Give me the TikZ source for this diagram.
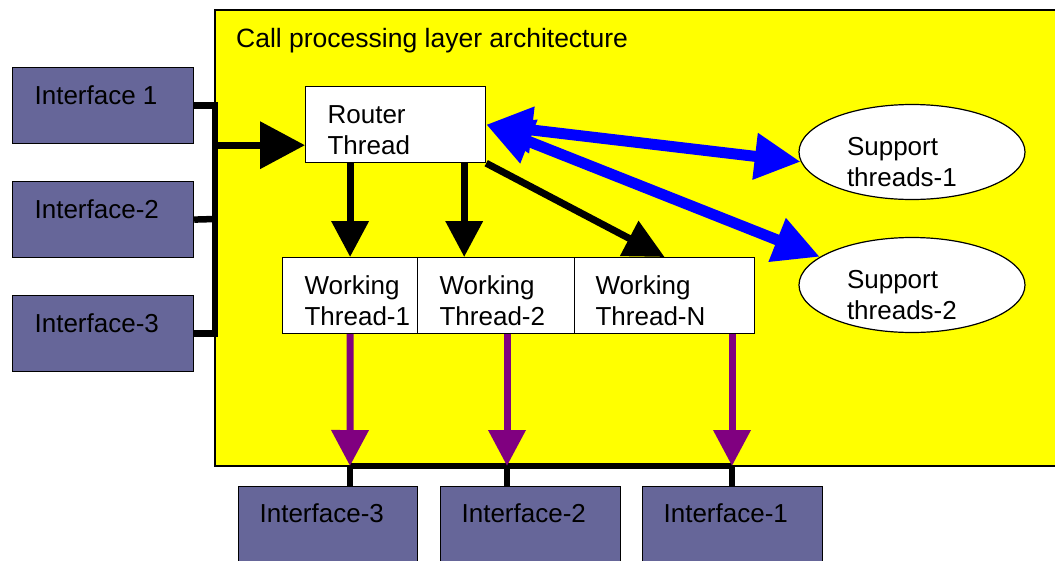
\documentclass[tikz,border=0pt]{standalone}
\usepackage{fontspec}
\setmainfont{Liberation Sans}
\usetikzlibrary{arrows.meta,calc,shapes.geometric}
\definecolor{ifc}{RGB}{102,102,153}
\definecolor{ylw}{RGB}{255,255,0}
\definecolor{blu}{RGB}{0,0,255}
\definecolor{pur}{RGB}{128,0,128}
% height, width, left pad, first baseline, text
\newcommand\bt[5]{\parbox[c][#1][t]{#2}{\raggedright\leftskip=#3\relax\rule{0pt}{#4}\ignorespaces#5}}
\begin{document}
\begin{tikzpicture}[x=1pt,y=-1pt,font=\fontsize{26}{31}\selectfont,
  ifbox/.style={draw=black,line width=1.2pt,fill=ifc,inner sep=0pt,anchor=north west},
  wbox/.style={draw=black,line width=1.2pt,fill=white,inner sep=0pt,anchor=north west},
  sup/.style={ellipse,draw=black,line width=1.2pt,fill=white,inner sep=0pt,minimum width=226pt,minimum height=95pt},
  blk/.style={line width=7pt,draw=black},
  bigtip/.style={-{Triangle[length=45pt,width=46pt]}},
  midtip/.style={-{Triangle[length=36pt,width=36pt]}},
  diagtip/.style={-{Triangle[length=40pt,width=38pt]}},
  bluarr/.style={line width=11pt,draw=blu,{Triangle[length=46pt,width=44pt]}-{Triangle[length=46pt,width=44pt]}},
  purarr/.style={line width=7pt,draw=pur,-{Triangle[length=36pt,width=36pt]}}]
\useasboundingbox (0,0) rectangle (1055,560);
\clip (0,0) rectangle (1055,560);

% layer
\filldraw[fill=ylw,draw=black,line width=1.2pt] (215,10) rectangle (1070,466);
\node[anchor=base west,inner sep=0pt,font=\fontsize{26.5}{31}\selectfont] (title) at (236,47) {Call processing layer architecture};

% left interfaces
\node[ifbox] (i1) at (12,67)  {\bt{76pt}{181pt}{22pt}{37pt}{Interface 1}};
\node[ifbox] (i2) at (12,181) {\bt{76pt}{181pt}{22pt}{37pt}{Interface-2}};
\node[ifbox] (i3) at (12,295) {\bt{76pt}{181pt}{22pt}{37pt}{Interface-3}};
\coordinate (lbus) at (215,219);

% bottom interfaces
\node[ifbox] (b3) at (238,486) {\bt{80pt}{179pt}{21pt}{36pt}{Interface-3}};
\node[ifbox] (b2) at (440,486) {\bt{80pt}{180pt}{21pt}{36pt}{Interface-2}};
\node[ifbox] (b1) at (642,486) {\bt{80pt}{180pt}{21pt}{36pt}{Interface-1}};
\coordinate (p1) at (350,466);
\coordinate (p2) at (507,466);
\coordinate (p3) at (732,466);

% router and working threads
\node[wbox] (router) at (305,86) {\bt{76pt}{180pt}{22pt}{37pt}{Router\\Thread}};
\node[wbox] (w1) at (282,257) {\bt{76pt}{135pt}{22pt}{37pt}{Working\\Thread-1}};
\node[wbox] (w2) at (417,257) {\bt{76pt}{157pt}{22pt}{37pt}{Working\\Thread-2}};
\node[wbox] (wn) at (574,257) {\bt{76pt}{180pt}{21pt}{37pt}{Working\\Thread-N}};

% support threads
\node[sup] (s1) at (912,152) {\parbox[c][60pt][t]{130pt}{\raggedright\rule{0pt}{33pt}Support\\threads-1}};
\node[sup] (s2) at (912,285) {\parbox[c][60pt][t]{130pt}{\raggedright\rule{0pt}{33pt}Support\\threads-2}};

% left bus
\draw[blk,line width=6.5pt] (i1.east) -| (lbus) |- (i3.east);
\draw[blk,line width=6.5pt] (i2.east) -- (lbus);
\coordinate (rin) at ($(router.south west)+(0,-18)$);
\draw[blk,bigtip] (lbus |- rin) -- (rin);

% router to working threads
\draw[blk,midtip] (w1.north |- router.south) -- (w1.north);
\coordinate (r2) at ($(router.south east)+(-22,0)$);
\draw[blk,midtip] (r2) -- (r2 |- w2.north);
\draw[blk,diagtip] (router.south east) -- (wn.north);

% router to support threads
\draw[bluarr] (router.east) -- (s1.185);
\draw[bluarr] (router.east) -- (s2.163);

% working threads to bottom bus
\draw[blk,line width=6pt] (p1) -- (p3);
\draw[blk,line width=6pt] (p1) -- (p1 |- b3.north);
\draw[blk,line width=6pt] (p2) -- (p2 |- b2.north);
\draw[blk,line width=6pt] (p3) -- (p3 |- b1.north);
\draw[purarr] (w1.south) -- (p1);
\draw[purarr] (p2 |- w2.south) -- (p2);
\draw[purarr] (p3 |- wn.south) -- (p3);
\end{tikzpicture}
\end{document}
